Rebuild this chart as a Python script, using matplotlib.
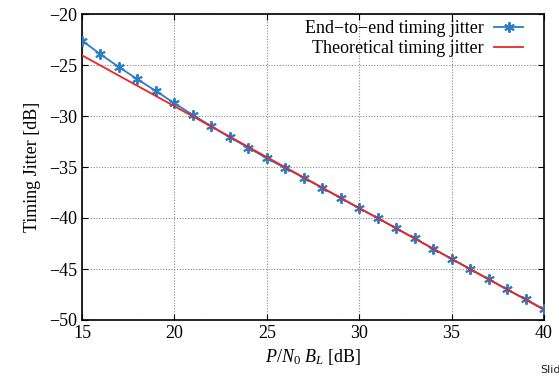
import matplotlib
matplotlib.use("Agg")
import matplotlib.pyplot as plt
import numpy as np

x_e2e = [15, 16, 17, 18, 19, 20, 21, 22, 23, 24, 25, 26, 27, 28, 29, 30, 31, 32, 33, 34, 35, 36, 37, 38, 39, 40]
y_e2e = [-22.6, -23.95, -25.2, -26.4, -27.55, -28.75, -29.9, -31.0, -32.1, -33.1, -34.15, -35.1, -36.05, -37.05, -38.05, -39.05, -40.0, -41.0, -42.0, -43.0, -44.0, -45.0, -46.0, -47.0, -47.95, -48.95]
x_theory = [15, 40]
y_theory = [-24.05, -49.0]

xticks = [15, 20, 25, 30, 35, 40]
yticks = [-50, -45, -40, -35, -30, -25, -20]

plt.rcParams['font.family'] = ['Liberation Serif', 'DejaVu Serif']
plt.rcParams['mathtext.fontset'] = 'custom'
plt.rcParams['mathtext.it'] = 'Liberation Serif:italic'
plt.rcParams['mathtext.rm'] = 'Liberation Serif'

fig = plt.figure(figsize=(5.59, 3.79), dpi=100)
ax = fig.add_axes([82/559, 1-320/379, (544-82)/559, (320-14)/379])

ax.plot(x_e2e, y_e2e, color='#2a7dc6', lw=1.3, marker=(6, 2, 0), ms=7.5, mew=1.4,
        label='End\u2212to\u2212end timing jitter', zorder=3)
ax.plot(x_theory, y_theory, color='#e8262a', lw=1.3, label='Theoretical timing jitter', zorder=4)

ax.set_xlim(15, 40)
ax.set_ylim(-50, -20)
ax.set_xticks(xticks)
ax.set_yticks(yticks)
ax.set_yticklabels(['\u221250', '\u221245', '\u221240', '\u221235', '\u221230', '\u221225', '\u221220'])
ax.tick_params(direction='in', top=True, right=True, labelsize=13, length=4)
ax.grid(True, color='#888888', linestyle=(0, (1, 1.5)), lw=0.8)
for s in ax.spines.values():
    s.set_linewidth(1.2)

ax.set_xlabel(r'$P/N_0\ B_L$ [dB]', fontsize=13, labelpad=4)
ax.set_ylabel('Timing Jitter [dB]', fontsize=13, labelpad=6)

leg = ax.legend(loc='upper right', bbox_to_anchor=(0.955, 0.98), frameon=False, markerfirst=False,
                fontsize=13, handlelength=1.6, borderaxespad=0.0, borderpad=0.0,
                labelspacing=0.15, handletextpad=0.6)
for t in leg.get_texts():
    t.set_ha('right')
leg._legend_box.align = 'right'

fig.text(540/559, 1-370/379, 'Slid', fontsize=8, family='DejaVu Sans', ha='left', va='center', color='#222222')

fig.savefig('out.png', dpi=100)
